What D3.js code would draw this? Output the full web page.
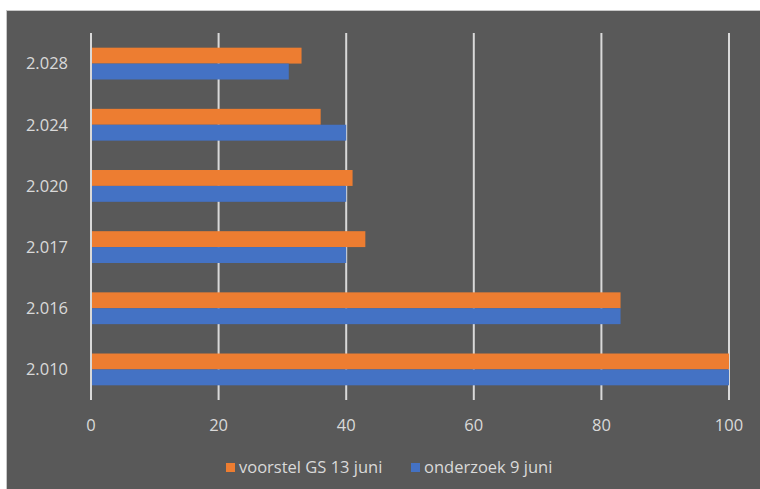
<!DOCTYPE html>
<html><head><meta charset="utf-8">
<script src="https://cdn.jsdelivr.net/npm/d3@7"></script>
<style>body{margin:0;background:#fff;}svg{display:block;}</style>
</head><body>
<svg id="c" width="760" height="489"></svg>
<script>
const categories = ["2.028","2.024","2.020","2.017","2.016","2.010"];
const seriesNames = ["voorstel GS 13 juni","onderzoek 9 juni"];
const voorstel = [33,36,41,43,83,100];
const onderzoek = [31,40,40,40,83,100];
const xTicks = [0,20,40,60,80,100];
const colors = ["#ED7D31","#4472C4"];

const svg = d3.select("#c");
svg.append("rect").attr("x",6.5).attr("y",10.5).attr("width",760).attr("height",490)
  .attr("fill","#595959").attr("stroke","#c8c8c8").attr("stroke-width",1);

const x = d3.scaleLinear().domain([0,100]).range([91,729]);
const y = d3.scaleBand().domain(categories).range([33,400]).paddingInner(0.48).paddingOuter(0.24);
const sub = d3.scaleBand().domain(seriesNames).range([0,y.bandwidth()]);

const g = svg.append("g");
g.selectAll("line.grid").data(xTicks).join("line")
  .attr("x1",d=>x(d)).attr("x2",d=>x(d)).attr("y1",33).attr("y2",400)
  .attr("stroke","#d9d9d9").attr("stroke-width",2);

const data = [voorstel, onderzoek];
data.forEach((vals,si)=>{
  g.selectAll("rect.s"+si).data(categories).join("rect")
    .attr("x",x(0)+1).attr("y",(c)=>y(c)+sub(seriesNames[si]))
    .attr("width",(c,i)=>x(vals[i])-x(0)-1).attr("height",sub.bandwidth())
    .attr("fill",colors[si]);
});

const font = "'Open Sans',sans-serif";
const fs = 16.5;
g.selectAll("text.yl").data(categories).join("text")
  .attr("x",68).attr("y",c=>y(c)+y.bandwidth()/2).attr("dy","0.35em")
  .attr("text-anchor","end").attr("fill","#d9d9d9")
  .attr("font-family",font).attr("font-size",fs).text(c=>c);

g.selectAll("text.xl").data(xTicks).join("text")
  .attr("x",d=>x(d)).attr("y",425).attr("dy","0.35em")
  .attr("text-anchor","middle").attr("fill","#d9d9d9")
  .attr("font-family",font).attr("font-size",fs).text(d=>d);

const leg = [{x:226,name:seriesNames[0],c:colors[0]},{x:411,name:seriesNames[1],c:colors[1]}];
leg.forEach(l=>{
  svg.append("rect").attr("x",l.x).attr("y",463).attr("width",9).attr("height",9).attr("fill",l.c);
  svg.append("text").attr("x",l.x+13).attr("y",467).attr("dy","0.35em")
    .attr("fill","#d9d9d9").attr("font-family",font).attr("font-size",fs).text(l.name);
});
</script>
</body></html>
